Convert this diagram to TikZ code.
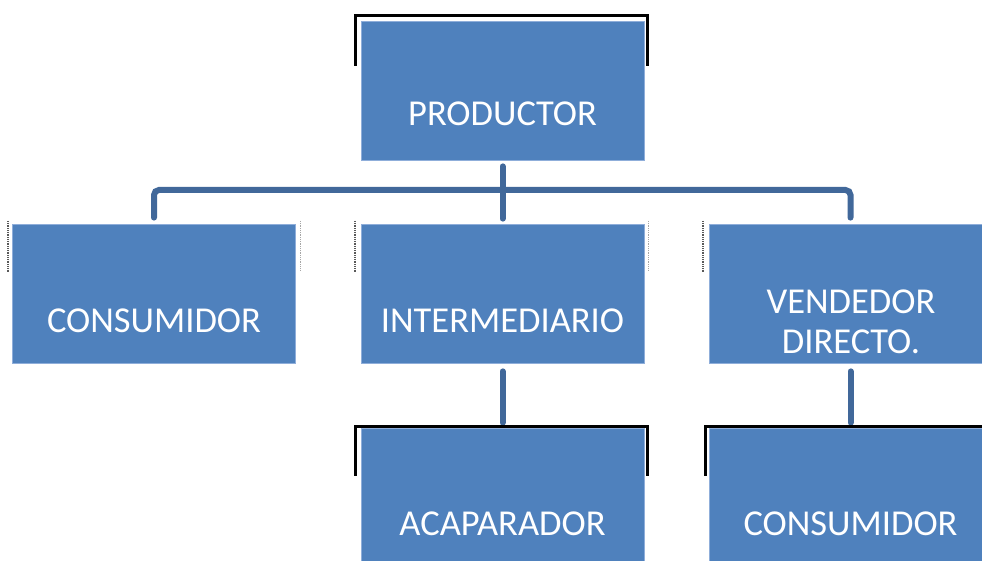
\documentclass[tikz,border=0pt]{standalone}
\usepackage{fontspec}
\setmainfont{Carlito}
\usetikzlibrary{calc}
\definecolor{boxblue}{HTML}{4F81BD}
\definecolor{boxedge}{HTML}{8FAEDA}
\definecolor{connblue}{HTML}{41689A}
\begin{document}
\begin{tikzpicture}[x=1pt,y=-1pt,
  box/.style={draw=boxedge,line width=0.8pt,fill=boxblue,minimum width=283pt,minimum height=139pt,inner sep=0pt},
  lbl/.style={text=white,font=\fontsize{36.5}{40}\selectfont,anchor=base,inner sep=0pt},
  conn/.style={draw=connblue,line width=6pt,line cap=round,rounded corners=5pt},
  bracket/.style={draw=black,line width=3pt},
  darkdots/.style={draw=black!65,line width=1.3pt,dash pattern=on 1pt off 0.8pt},
  lightdots/.style={draw=black!35,line width=1pt,dash pattern=on 1pt off 0.8pt}]
\useasboundingbox (0,0) rectangle (982,561);
\clip (0,0) rectangle (982,561);
\fill[white] (0,0) rectangle (982,561);
% boxes
\node[box] (P) at (502.5,90.5) {};
\node[box] (C1) at (154,293.5) {};
\node[box] (I) at (502.5,293.5) {};
\node[box] (V) at (850.5,293.5) {};
\node[box] (A) at (502.5,497.5) {};
\node[box] (C2) at (850.5,497.5) {};
% labels
\node[lbl] (tP) at (502.5,126) {PRODUCTOR};
\node[lbl] (tC1) at (154,332) {CONSUMIDOR};
\node[lbl] (tI) at (502.5,332) {INTERMEDIARIO};
\node[lbl] (tV1) at (851,313) {VENDEDOR};
\node[lbl] (tV2) at (851,353) {DIRECTO.};
\node[lbl] (tA) at (502.5,535) {ACAPARADOR};
\node[lbl] (tC2) at (850.5,535) {CONSUMIDOR};
% connectors
\coordinate (bus) at (502.5,190);
\draw[conn] ([yshift=-6pt]P.south) -- ([yshift=5pt]I.north);
\draw[conn] ([yshift=6pt]C1.north) |- (bus) -| ([yshift=6pt]V.north);
\draw[conn] ([yshift=-8pt]I.south) -- ([yshift=5pt]A.north);
\draw[conn] ([yshift=-8pt]V.south) -- ([yshift=5pt]C2.north);
% black brackets
\draw[bracket] ($(P.north west)+(-5,45)$) -- ($(P.north west)+(-5,-5)$) -- ($(P.north east)+(3,-5)$) -- ($(P.north east)+(3,45)$);
\draw[bracket] ($(A.north west)+(-5,48)$) -- ($(A.north west)+(-5,-1)$) -- ($(A.north east)+(3,-1)$) -- ($(A.north east)+(3,48)$);
\draw[bracket] ($(C2.north west)+(-3,48)$) -- ($(C2.north west)+(-3,-1)$) -- ($(C2.north east)+(3,-1)$);
% faint dotted marks
\draw[darkdots] (8,221) -- (8,272);
\draw[lightdots] (300,221) -- (300,271);
\draw[darkdots] (355,221) -- (355,272);
\draw[lightdots] (648,221) -- (648,271);
\draw[darkdots] (703,221) -- (703,272);
\end{tikzpicture}
\end{document}
